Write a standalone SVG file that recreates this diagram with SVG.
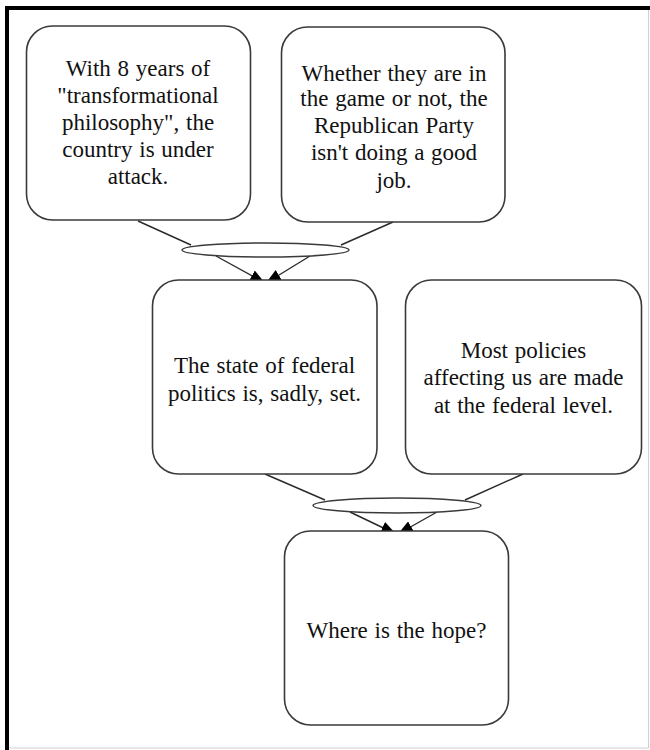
<svg xmlns="http://www.w3.org/2000/svg" width="650" height="750" viewBox="0 0 650 750">
  <style>
    .box { fill: #ffffff; stroke: #3a3a3a; stroke-width: 1.6; }
    .join { fill: #ffffff; stroke: #3a3a3a; stroke-width: 1.4; }
    .edge { fill: none; stroke: #2a2a2a; stroke-width: 1.4; }
    .label { font-family: 'Liberation Serif', 'DejaVu Serif', 'Times New Roman', serif; font-size: 23px; word-spacing: 1px; fill: #111111; text-anchor: middle; }
  </style>
  <defs>
    <!-- arrowhead tips sit just inside the target box, which is painted over them -->
    <marker id="arrow" viewBox="0 0 15 12" refX="15" refY="6" markerWidth="15" markerHeight="12" markerUnits="userSpaceOnUse" orient="auto">
      <path d="M0,0 L15,6 L0,12 z" fill="#000000"/>
    </marker>
  </defs>

  <!-- page frame -->
  <rect x="0" y="0" width="650" height="750" fill="#ffffff"/>
  <rect x="7" y="8" width="641.5" height="740" fill="none" stroke="#d0d0d0" stroke-width="1"/>
  <line x1="5" y1="8" x2="650" y2="8" stroke="#000000" stroke-width="4"/>
  <line x1="7" y1="6" x2="7" y2="750" stroke="#000000" stroke-width="4"/>

  <!-- connectors -->
  <g id="connectors">
    <line class="edge" x1="138" y1="221" x2="191" y2="245"/>
    <line class="edge" x1="393" y1="222" x2="341" y2="245"/>
    <line class="edge" x1="216" y1="256" x2="265" y2="283" marker-end="url(#arrow)"/>
    <line class="edge" x1="310" y1="256" x2="266" y2="283" marker-end="url(#arrow)"/>
    <ellipse class="join" cx="265.5" cy="250" rx="83.5" ry="7"/>

    <line class="edge" x1="265" y1="474" x2="325" y2="500"/>
    <line class="edge" x1="523" y1="474" x2="465" y2="500"/>
    <line class="edge" x1="350" y1="512" x2="396" y2="534" marker-end="url(#arrow)"/>
    <line class="edge" x1="437" y1="512" x2="398" y2="534" marker-end="url(#arrow)"/>
    <ellipse class="join" cx="397" cy="505.5" rx="84" ry="7.5"/>
  </g>

  <g id="node-attack">
    <rect class="box" x="26.5" y="26" width="224" height="194" rx="26"/>
    <text class="label" x="138" y="76">With 8 years of</text>
    <text class="label" x="138" y="103">"transformational</text>
    <text class="label" x="138" y="130">philosophy", the</text>
    <text class="label" x="138" y="157">country is under</text>
    <text class="label" x="138" y="184">attack.</text>
  </g>

  <g id="node-party">
    <rect class="box" x="281.5" y="27" width="223.5" height="195" rx="26"/>
    <text class="label" x="394" y="81">Whether they are in</text>
    <text class="label" x="394" y="106">the game or not, the</text>
    <text class="label" x="394" y="133">Republican Party</text>
    <text class="label" x="394" y="160">isn't doing a good</text>
    <text class="label" x="394" y="188">job.</text>
  </g>

  <g id="node-politics">
    <rect class="box" x="152.5" y="280" width="224.5" height="194" rx="26"/>
    <text class="label" x="264.5" y="373">The state of federal</text>
    <text class="label" x="264.5" y="401">politics is, sadly, set.</text>
  </g>

  <g id="node-policies">
    <rect class="box" x="405.5" y="280" width="236" height="194" rx="26"/>
    <text class="label" x="523.5" y="358">Most policies</text>
    <text class="label" x="523.5" y="385">affecting us are made</text>
    <text class="label" x="523.5" y="413">at the federal level.</text>
  </g>

  <g id="node-hope">
    <rect class="box" x="284.5" y="531" width="224" height="194" rx="26"/>
    <text class="label" x="396.5" y="638">Where is the hope?</text>
  </g>
</svg>
